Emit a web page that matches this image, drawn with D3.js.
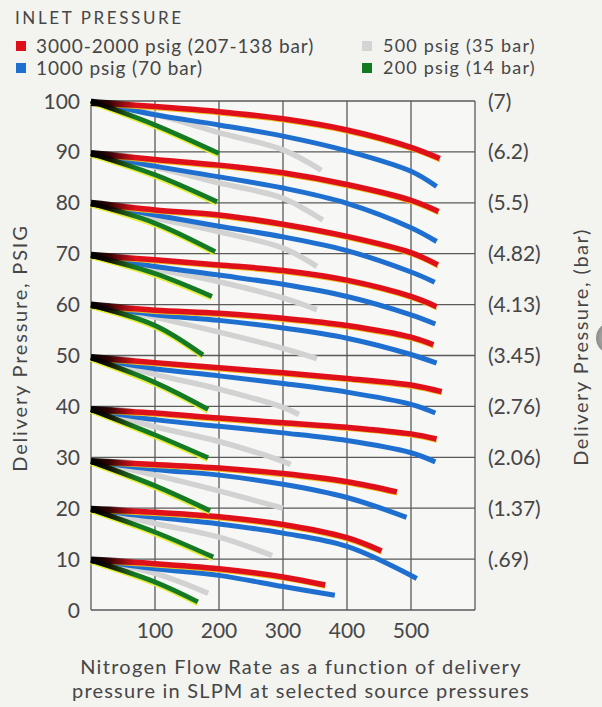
<!DOCTYPE html>
<html>
<head>
<meta charset="utf-8">
<script src="https://cdn.jsdelivr.net/npm/d3@7"></script>
<style>
  html, body { margin: 0; padding: 0; background: #f3f3f0; }
  svg { display: block; }
  text { font-family: Lato, "Open Sans", sans-serif; fill: #464646; }
</style>
</head>
<body>
<svg id="chart" width="602" height="707"></svg>
<script>
// ---------- DATA ----------
const setpoints = [10, 20, 30, 40, 50, 60, 70, 80, 90, 100];
const barLabels = ["(.69)", "(1.37)", "(2.06)", "(2.76)", "(3.45)", "(4.13)", "(4.82)", "(5.5)", "(6.2)", "(7)"];
const yTicks = [0, 10, 20, 30, 40, 50, 60, 70, 80, 90, 100];
const xTicks = [100, 200, 300, 400, 500];
const xGrid = [0, 100, 200, 300, 400, 500, 600];

const legendLabels = ["3000-2000 psig (207-138 bar)", "1000 psig (70 bar)", "500 psig (35 bar)", "200 psig (14 bar)"];

// [flow SLPM, delivery psig] per set point (10 ... 100)
const red = [
  [[0,9.8],[100,9.1],[200,8.1],[300,6.5],[366,4.9]],
  [[0,19.8],[100,19.2],[200,18.3],[300,16.8],[400,14.2],[454,11.6]],
  [[0,29.2],[100,28.6],[200,27.9],[300,26.8],[400,25.2],[478,23.2]],
  [[0,39.4],[100,38.7],[200,37.7],[300,36.8],[400,35.9],[500,34.6],[540,33.6]],
  [[0,49.6],[100,48.6],[200,47.6],[300,46.6],[400,45.5],[500,44.2],[548,42.9]],
  [[0,59.9],[100,58.9],[200,58.3],[300,57.3],[400,55.9],[500,53.6],[535,52.1]],
  [[0,69.7],[100,68.8],[200,67.8],[300,66.7],[400,64.8],[500,61.6],[540,59.6]],
  [[0,79.9],[100,78.6],[200,77.6],[300,75.8],[400,73.4],[500,70.2],[542,67.8]],
  [[0,89.7],[100,88.5],[200,87.4],[300,85.9],[400,83.6],[500,80.5],[543,78.3]],
  [[0,99.7],[100,98.9],[200,97.9],[300,96.5],[400,94.3],[500,90.9],[545,88.7]]
];
const blue = [
  [[0,9.8],[100,8.1],[200,6.8],[300,4.6],[381,2.9]],
  [[0,19.8],[100,18.2],[200,16.9],[300,15.1],[400,12.5],[509,6.2]],
  [[0,29.2],[100,27.6],[200,26.5],[300,24.7],[400,22.1],[493,18.2]],
  [[0,39.4],[100,37.4],[200,36.1],[300,34.8],[400,33.3],[500,30.9],[538,29.1]],
  [[0,49.6],[100,47.4],[200,46],[300,44.5],[400,42.8],[500,40.4],[538,38.7]],
  [[0,59.9],[100,58],[200,56.9],[300,55.4],[400,53.4],[500,50.2],[540,48.5]],
  [[0,69.7],[100,67.5],[200,65.8],[300,64],[400,61.6],[500,58],[538,56.2]],
  [[0,79.9],[100,77.6],[200,75.4],[300,73.3],[400,70.6],[500,66.4],[537,64.4]],
  [[0,89.7],[100,87.2],[200,85.1],[300,82.9],[400,79.9],[500,75.1],[540,72.4]],
  [[0,100],[100,97.3],[200,95.3],[300,93.1],[400,90.2],[500,86.2],[540,83.2]]
];
const grey = [
  [[0,9.8],[100,7.2],[183,3.3]],
  [[0,19.8],[100,17],[200,14.3],[283,10.7]],
  [[0,29.2],[100,26.5],[200,23.4],[300,20]],
  [[0,39.4],[100,36],[200,33.1],[300,29.2],[312,28.6]],
  [[0,49.6],[100,46.3],[200,43.4],[300,39.8],[325,38.4]],
  [[0,59.9],[100,57.5],[200,54.6],[300,51.4],[353,49.4]],
  [[0,69.7],[100,67],[200,64.5],[300,61.3],[353,59]],
  [[0,79.9],[100,77],[200,74.3],[300,71.1],[353,67.5]],
  [[0,89.7],[100,87],[200,83.9],[300,80.9],[362,76.6]],
  [[0,100],[100,97.4],[200,93.8],[300,90.4],[360,86.4]]
];
const green = [
  [[0,9.8],[100,5.5],[167,1.6]],
  [[0,19.8],[100,15.3],[191,10.4]],
  [[0,29.2],[100,24.4],[186,19.5]],
  [[0,39.4],[100,34.4],[183,29.9]],
  [[0,49.6],[100,44.7],[183,39.4]],
  [[0,59.9],[100,55.9],[175,50.1]],
  [[0,69.7],[100,66.1],[189,61.6]],
  [[0,79.9],[100,76],[194,70.4]],
  [[0,89.7],[100,85.5],[197,80.2]],
  [[0,100],[100,95.3],[200,89.7]]
];

// ---------- LAYOUT ----------
const svg = d3.select("#chart");
const x = d3.scaleLinear().domain([0, 600]).range([91, 475]);
const y = d3.scaleLinear().domain([0, 100]).range([610, 101]);

const defs = svg.append("defs");
const fade = defs.append("linearGradient").attr("id", "blk")
  .attr("gradientUnits", "userSpaceOnUse")
  .attr("x1", x(0)).attr("x2", x(70)).attr("y1", 0).attr("y2", 0);
fade.append("stop").attr("offset", 0).attr("stop-color", "#000").attr("stop-opacity", 1);
fade.append("stop").attr("offset", 0.4).attr("stop-color", "#100").attr("stop-opacity", 0.85);
fade.append("stop").attr("offset", 1).attr("stop-color", "#300").attr("stop-opacity", 0);

const hole = defs.append("radialGradient").attr("id", "hole");
hole.append("stop").attr("offset", 0).attr("stop-color", "#c9c9c9");
hole.append("stop").attr("offset", 1).attr("stop-color", "#8d8d8d");

// plot background
svg.append("rect").attr("x", x(0)).attr("y", y(100))
  .attr("width", x(600) - x(0)).attr("height", y(0) - y(100))
  .attr("fill", "#f7f7f5");

// gridlines
const grid = svg.append("g").attr("stroke", "#5a5a5a").attr("stroke-width", 1.3);
grid.selectAll("line.h").data(yTicks).join("line")
  .attr("x1", x(0)).attr("x2", x(600))
  .attr("y1", d => y(d)).attr("y2", d => y(d));
grid.selectAll("line.v").data(xGrid).join("line")
  .attr("x1", d => x(d)).attr("x2", d => x(d))
  .attr("y1", y(0)).attr("y2", y(100));

const line = d3.line().x(d => x(d[0])).y(d => y(d[1])).curve(d3.curveCatmullRom.alpha(0.5));

function draw(data, color, width, dx, dy, cls) {
  svg.append("g").attr("class", cls).attr("transform", `translate(${dx},${dy})`)
    .selectAll("path").data(data).join("path")
    .attr("d", line).attr("fill", "none")
    .attr("stroke", color).attr("stroke-width", width)
    .attr("stroke-linecap", "butt");
}

draw(grey, "#d2d2d2", 5.5, 0, 0, "grey");
draw(blue, "#1f6fd0", 5, 0, 0, "blue");
draw(red, "#f0c020", 1.8, 0, 2.8, "redfringe");
draw(red, "#e0101a", 5.5, 0, 0, "red");
draw(green, "#e6ee30", 1.8, -1, 3, "greenfringe");
draw(green, "#157a24", 4.8, 0, 0, "green");
draw(red, "url(#blk)", 7, 0, 0, "startR");
draw(green, "url(#blk)", 5, 0, 0, "startG");

// left tick labels
svg.append("g").selectAll("text").data(yTicks).join("text")
  .attr("x", 80).attr("y", d => y(d)).attr("dy", "0.36em")
  .attr("text-anchor", "end").attr("font-size", 21).text(d => d);

// right bar labels
svg.append("g").selectAll("text").data(setpoints).join("text")
  .attr("x", 488).attr("y", d => y(d)).attr("dy", "0.36em")
  .attr("font-size", 21).text((d, i) => barLabels[i]);

// x tick labels
svg.append("g").selectAll("text").data(xTicks).join("text")
  .attr("x", d => x(d)).attr("y", 638)
  .attr("text-anchor", "middle").attr("font-size", 21).text(d => d);

// axis titles
svg.append("text").attr("transform", "translate(27,348) rotate(-90)")
  .attr("text-anchor", "middle").attr("font-size", 20).attr("letter-spacing", 1.8)
  .text("Delivery Pressure, PSIG");
svg.append("text").attr("transform", "translate(588,347) rotate(-90)")
  .attr("text-anchor", "middle").attr("font-size", 20).attr("letter-spacing", 1.5)
  .text("Delivery Pressure, (bar)");

// binder hole artifact at right edge
svg.append("circle").attr("cx", 612).attr("cy", 338).attr("r", 16).attr("fill", "url(#hole)");

// caption
svg.append("text").attr("x", 301).attr("y", 674).attr("text-anchor", "middle")
  .attr("font-size", 20).attr("letter-spacing", 1.3).text("Nitrogen Flow Rate as a function of delivery");
svg.append("text").attr("x", 301).attr("y", 698).attr("text-anchor", "middle")
  .attr("font-size", 20).attr("letter-spacing", 1.2).text("pressure in SLPM at selected source pressures");

// legend
svg.append("text").attr("x", 15).attr("y", 24).attr("font-size", 17).attr("letter-spacing", 2.6)
  .text("INLET  PRESSURE");
const legColors = ["#e0101a", "#1f6fd0", "#d4d4d4", "#147a22"];
const legX = [16, 16, 362, 362];
const legY = [46, 68, 46, 68];
const leg = svg.append("g");
legendLabels.forEach((t, i) => {
  leg.append("rect").attr("x", legX[i]).attr("y", legY[i] - 5).attr("width", 10).attr("height", 10)
    .attr("fill", legColors[i]);
  leg.append("text").attr("x", legX[i] + (i < 2 ? 20 : 21)).attr("y", legY[i]).attr("dy", "0.36em")
    .attr("font-size", i < 2 ? 19 : 18).attr("letter-spacing", i < 2 ? 0.9 : 1.2).text(t);
});
</script>
</body>
</html>
